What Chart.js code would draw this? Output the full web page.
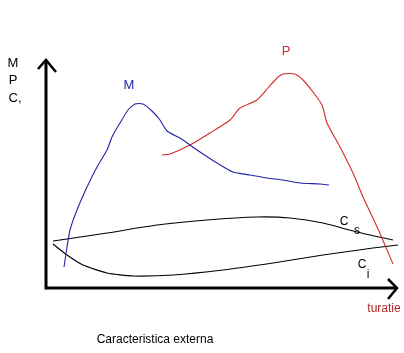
<!DOCTYPE html>
<html>
<head>
<meta charset="utf-8">
<script src="https://cdn.jsdelivr.net/npm/chart.js@4/dist/chart.umd.min.js"></script>
<style>
  html, body { margin: 0; padding: 0; background: #ffffff; }
  #c { display: block; }
</style>
</head>
<body>
<canvas id="c" width="404" height="353"></canvas>
<script>
// x: turatie (arbitrary units from origin), y: M / P / C (arbitrary units from origin)
const momentX = [18, 21, 24, 31, 41, 51, 61, 66, 74, 82, 89, 97, 107, 114, 121, 134, 144, 154, 171, 187, 204, 221, 237, 254, 274, 283];
const momentY = [21, 41, 58, 78, 101, 121, 138, 151, 165, 178, 184, 184, 176, 168, 157, 150, 143, 136, 125, 116, 113, 110, 108, 105, 104, 103];

const powerX = [116, 124, 144, 164, 184, 194, 211, 222, 231, 237, 249, 257, 267, 276, 281, 294, 307, 317, 332, 347];
const powerY = [133, 134, 143, 155, 168, 180, 188, 200, 210, 214, 214, 208, 196, 183, 165, 141, 115, 91, 59, 24];

const csX = [7, 21, 61, 111, 161, 211, 244, 277, 311, 347];
const csY = [47, 49, 55, 63, 68, 71, 70, 65, 56, 48];

const ciX = [7, 21, 37, 61, 87, 127, 177, 227, 277, 327, 352];
const ciY = [44, 33, 23, 15, 12, 13, 18, 25, 33, 40, 43];

const xMax = 351;
const yMax = 228;

function pts(xs, ys) { return xs.map((x, i) => ({ x: x, y: ys[i] })); }

const BLUE = '#2424a8';
const RED = '#d42c2c';
const FONT = '"Liberation Sans", Arial, sans-serif';

const annotate = {
  id: 'annotate',
  afterDraw(chart) {
    const ctx = chart.ctx;
    const xs = chart.scales.x, ys = chart.scales.y;
    const X = v => xs.getPixelForValue(v);
    const Y = v => ys.getPixelForValue(v);
    ctx.save();
    // axes with arrows
    ctx.strokeStyle = '#000';
    ctx.lineWidth = 3;
    ctx.lineCap = 'butt';
    ctx.lineJoin = 'miter';
    const ox = X(0), oy = Y(0), tx = X(xMax), ty = Y(yMax);
    ctx.beginPath();
    ctx.moveTo(ox, oy + 1); ctx.lineTo(ox, ty + 1);
    ctx.moveTo(ox - 1.5, oy); ctx.lineTo(tx, oy);
    ctx.stroke();
    ctx.lineWidth = 2.5;
    ctx.beginPath();
    ctx.moveTo(ox - 8, ty + 9); ctx.lineTo(ox, ty); ctx.lineTo(ox + 10, ty + 12);
    ctx.moveTo(tx - 9, oy - 9); ctx.lineTo(tx, oy); ctx.lineTo(tx - 9, oy + 11);
    ctx.stroke();

    ctx.textAlign = 'center';
    ctx.textBaseline = 'middle';
    ctx.font = '13px ' + FONT;
    ctx.fillStyle = '#000';
    ctx.fillText('M', 13, 63);
    ctx.fillText('P', 13, 80);
    ctx.fillText('C,', 15, 98);

    ctx.fillStyle = BLUE;
    ctx.fillText('M', X(83), Y(203));
    ctx.fillStyle = RED;
    ctx.fillText('P', X(240), Y(237));

    ctx.fillStyle = '#000';
    ctx.font = '12px ' + FONT;
    ctx.fillText('C', X(298), Y(66));
    ctx.fillText('s', X(311), Y(57));
    ctx.fillText('C', X(316), Y(23));
    ctx.fillText('i', X(322), Y(13));

    ctx.fillStyle = '#b02a2a';
    ctx.fillText('turatie', X(338), Y(-21));
    ctx.fillStyle = '#000';
    ctx.fillText('Caracteristica externa', X(109), Y(-52));
    ctx.restore();
  }
};

const common = { showLine: true, pointRadius: 0, borderWidth: 1.1, tension: 0.2, fill: false, clip: false };

new Chart(document.getElementById('c'), {
  type: 'scatter',
  data: {
    datasets: [
      Object.assign({ label: 'M', data: pts(momentX, momentY), borderColor: BLUE }, common),
      Object.assign({ label: 'P', data: pts(powerX, powerY), borderColor: RED }, common),
      Object.assign({ label: 'Cs', data: pts(csX, csY), borderColor: '#000' }, common),
      Object.assign({ label: 'Ci', data: pts(ciX, ciY), borderColor: '#000' }, common)
    ]
  },
  options: {
    responsive: false,
    animation: false,
    devicePixelRatio: 1,
    layout: { padding: { left: 46, right: 7, top: 60, bottom: 65 } },
    plugins: { legend: { display: false }, tooltip: { enabled: false } },
    scales: {
      x: { type: 'linear', min: 0, max: xMax, display: false },
      y: { type: 'linear', min: 0, max: yMax, display: false }
    }
  },
  plugins: [annotate]
});
</script>
</body>
</html>
